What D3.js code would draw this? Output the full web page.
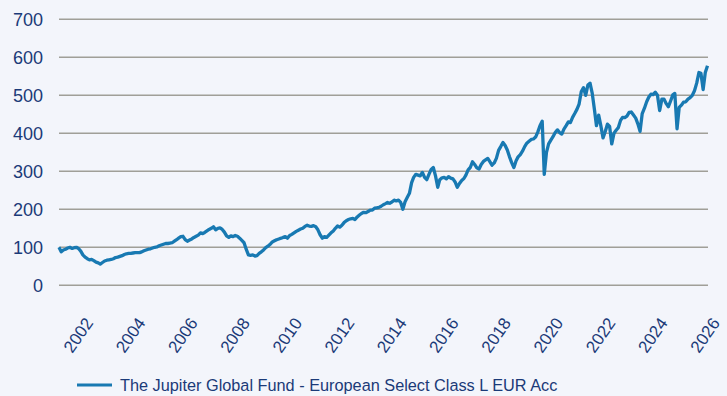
<!DOCTYPE html>
<html>
<head>
<meta charset="utf-8">
<script src="https://cdn.jsdelivr.net/npm/d3@7"></script>
<style>
  html, body { margin: 0; padding: 0; background: #f3f5fb; }
  svg { display: block; font-family: "Liberation Sans", Arial, Helvetica, sans-serif; }
</style>
</head>
<body>
<svg id="chart" width="727" height="396"></svg>
<script>
// Fund performance, rebased to 100 at launch, month-end values
const seriesName = "The Jupiter Global Fund - European Select Class L EUR Acc";
const firstMonth = "2001-08";

// 2001-08 … 2006-07
const navA = [
  100, 88, 93, 95, 98, 100, 97, 99, 100, 97,
  90, 80, 74, 70, 67, 68, 65, 61, 59, 56,
  60, 64, 66, 67, 68, 70, 73, 74, 76, 78,
  81, 83, 84, 84, 85, 86, 86, 86, 88, 91,
  93, 95, 96, 98, 100, 101, 104, 106, 108, 110,
  110, 111, 112, 116, 120, 124, 128, 129, 120, 116
];
// 2006-08 … 2011-07
const navB = [
  119, 122, 126, 129, 132, 138, 136, 139, 143, 147,
  150, 154, 146, 150, 151, 147, 140, 130, 126, 130,
  128, 131, 129, 124, 118, 112, 95, 80, 79, 80,
  77, 78, 84, 88, 93, 99, 103, 108, 114, 117,
  120, 122, 124, 126, 128, 124, 131, 134, 138, 142,
  145, 148, 150, 155, 158, 156, 155, 157, 154, 146
];
// 2011-08 … 2016-07
const navC = [
  133, 124, 128, 126, 132, 138, 143, 150, 156, 153,
  158, 165, 170, 173, 175, 176, 173, 180, 185, 189,
  192, 191, 194, 198, 198, 203, 204, 205, 208, 212,
  215, 218, 216, 219, 224, 222, 224, 218, 200, 220,
  231, 242, 270, 284, 292, 290, 288, 297, 284, 278,
  292, 305, 310, 288, 258, 278, 283, 284, 280, 286
];
// 2016-08 … 2021-07
const navD = [
  282, 280, 272, 258, 268, 276, 281, 290, 304, 310,
  325, 318, 309, 306, 318, 326, 330, 334, 325, 316,
  322, 334, 355, 365, 376, 368, 356, 338, 323, 310,
  328, 338, 344, 353, 365, 374, 379, 384, 385, 390,
  403, 420, 432, 292, 350, 372, 382, 391, 402, 409,
  402, 398, 411, 420, 430, 428, 442, 452, 463, 477
];
// 2021-08 … 2026-06
const navE = [
  510, 520, 500, 527, 532, 505, 462, 420, 448, 420,
  388, 404, 424, 418, 372, 400, 408, 415, 434, 442,
  441, 445, 455, 456, 448, 440, 425, 405, 452, 466,
  483, 495, 503, 502, 508, 500, 460, 490, 490, 478,
  470, 485, 501, 505, 412, 468, 474, 482, 483, 490,
  494, 500, 512, 532, 560, 558, 515, 560, 578
];

const yTicks = [0, 100, 200, 300, 400, 500, 600, 700];
const xTickLabels = ["2002", "2004", "2006", "2008", "2010", "2012", "2014",
                     "2016", "2018", "2020", "2022", "2024", "2026"];

// ---- build the series ----
const values = [].concat(navA, navB, navC, navD, navE);
const start = d3.timeParse("%Y-%m")(firstMonth);
const data = values.map((v, i) => ({ date: d3.timeMonth.offset(start, i), value: v }));

const colors = { bg: "#f3f5fb", grid: "#a09f98", line: "#1879b2", text: "#1b3a78" };
const plot = { left: 59, right: 708, top: 19.3, bottom: 285.3 };

const svg = d3.select("#chart");
svg.append("rect").attr("width", 727).attr("height", 396).attr("fill", colors.bg);

const x = d3.scaleTime()
  .domain(d3.extent(data, d => d.date))
  .range([plot.left, 707.5]);
const y = d3.scaleLinear().domain([0, 700]).range([plot.bottom, plot.top]);

// horizontal grid lines
svg.append("g")
  .selectAll("line")
  .data(yTicks)
  .join("line")
  .attr("x1", plot.left).attr("x2", plot.right)
  .attr("y1", d => y(d)).attr("y2", d => y(d))
  .attr("stroke", colors.grid).attr("stroke-width", 1.6);

// y axis labels
const yAxis = d3.axisLeft(y).tickValues(yTicks).tickSize(0).tickPadding(0);
svg.append("g")
  .attr("transform", `translate(43,0)`)
  .call(yAxis)
  .call(g => g.select(".domain").remove())
  .call(g => g.selectAll("text")
    .attr("fill", colors.text)
    .attr("font-size", 18)
    .attr("font-family", "Liberation Sans, Arial, sans-serif")
    .attr("dy", "0.36em"));

// x axis labels, rotated
const xTickDates = xTickLabels.map(s => new Date(+s, 0, 1));
svg.append("g")
  .selectAll("text")
  .data(xTickDates)
  .join("text")
  .attr("transform", d => `translate(${x(d) + 24},323) rotate(-55)`)
  .attr("text-anchor", "end")
  .attr("fill", colors.text)
  .attr("font-size", 17)
  .text((d, i) => xTickLabels[i]);

// fund line
const line = d3.line().x(d => x(d.date)).y(d => y(d.value));
svg.append("path")
  .datum(data)
  .attr("d", line)
  .attr("fill", "none")
  .attr("stroke", colors.line)
  .attr("stroke-width", 3.3)
  .attr("stroke-linejoin", "round");

// legend
const legend = svg.append("g").attr("transform", "translate(77,385)");
legend.append("line")
  .attr("x1", 0).attr("x2", 35).attr("y1", 0).attr("y2", 0)
  .attr("stroke", colors.line).attr("stroke-width", 3);
legend.append("text")
  .attr("x", 43).attr("y", 5.5)
  .attr("fill", colors.text)
  .attr("font-size", 16.3)
  .text(seriesName);
</script>
</body>
</html>
